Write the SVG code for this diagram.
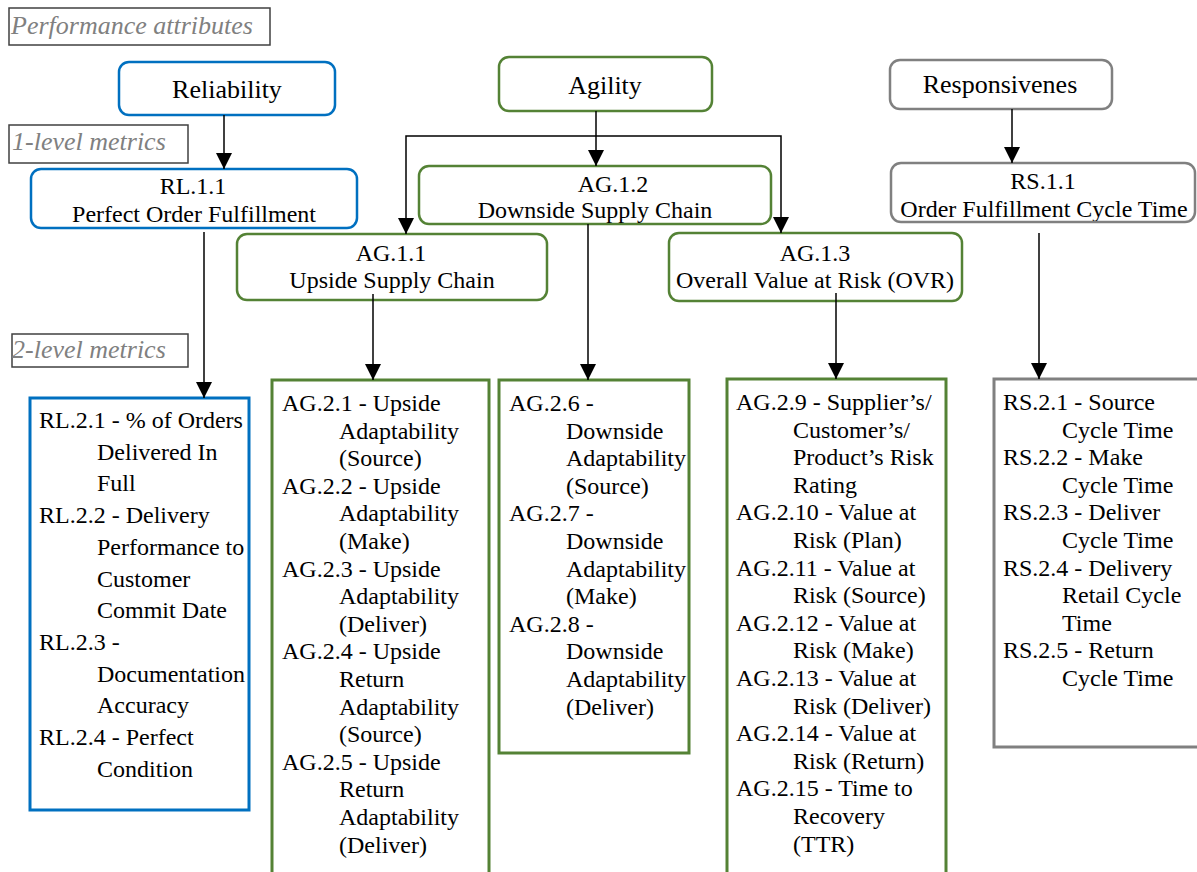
<svg xmlns="http://www.w3.org/2000/svg" width="1197" height="872" viewBox="0 0 1197 872">
<style>
.bg{fill:#ffffff}
.lbl{fill:#ffffff;stroke:#404040;stroke-width:1.5}
.lt{font-family:"Liberation Serif",serif;font-style:italic;font-size:26px;fill:#808080}
.blue{fill:#ffffff;stroke:#0070C0;stroke-width:2.5}
.green{fill:#ffffff;stroke:#548235;stroke-width:2.5}
.gray{fill:#ffffff;stroke:#808080;stroke-width:2.5}
.lblue{fill:#ffffff;stroke:#0070C0;stroke-width:3}
.lgreen{fill:#ffffff;stroke:#548235;stroke-width:3}
.lgray{fill:#ffffff;stroke:#808080;stroke-width:3}
.t26{font-family:"Liberation Serif",serif;font-size:26px;fill:#000;text-anchor:middle}
.t24{font-family:"Liberation Serif",serif;font-size:24px;fill:#000;text-anchor:middle}
.li{font-family:"Liberation Serif",serif;font-size:24px;fill:#000}
.con{fill:none;stroke:#000;stroke-width:1.5}
</style>
<defs>
<marker id="arr" markerUnits="userSpaceOnUse" markerWidth="16" markerHeight="16" viewBox="0 0 16 16" refX="16" refY="8" orient="auto">
<path d="M0,0 L16,8 L0,16 z" fill="#000"/>
</marker>
<clipPath id="clipAG12"><rect x="419" y="166" width="352" height="57"/></clipPath>
<clipPath id="clipRS11"><rect x="891" y="163" width="304" height="58"/></clipPath>
</defs>
<rect class="bg" x="0" y="0" width="1197" height="872"/>

<g id="label-performance">
<rect class="lbl" x="9" y="8" width="261" height="37"/>
<text class="lt" x="11" y="34">Performance attributes</text>
</g>
<g id="label-level1">
<rect class="lbl" x="9" y="125" width="179" height="38"/>
<text class="lt" x="12" y="150">1-level metrics</text>
</g>
<g id="label-level2">
<rect class="lbl" x="12" y="334" width="176" height="33"/>
<text class="lt" x="12" y="358">2-level metrics</text>
</g>

<g id="reliability">
<rect class="blue" x="119" y="62" width="216" height="53" rx="10"/>
<text class="t26" x="227" y="98">Reliability</text>
</g>
<g id="agility">
<rect class="green" x="499" y="57" width="213" height="54" rx="10"/>
<text class="t26" x="605" y="94">Agility</text>
</g>
<g id="responsiveness">
<rect class="gray" x="890" y="60" width="222" height="49" rx="10"/>
<text class="t26" x="1000" y="93">Responsivenes</text>
</g>

<g id="rl11">
<rect class="blue" x="31" y="169" width="326" height="59" rx="10"/>
<text class="t24" x="193" y="194">RL.1.1</text>
<text class="t24" x="194" y="222">Perfect Order Fulfillment</text>
</g>
<g id="ag12">
<rect class="green" x="419" y="166" width="352" height="58" rx="10"/>
<g clip-path="url(#clipAG12)">
<text class="t24" x="613" y="192">AG.1.2</text>
<text class="t24" x="595" y="218">Downside Supply Chain</text>
</g>
</g>
<g id="ag11">
<rect class="green" x="237" y="234" width="310" height="66" rx="10"/>
<text class="t24" x="391" y="261">AG.1.1</text>
<text class="t24" x="392" y="288">Upside Supply Chain</text>
</g>
<g id="ag13">
<rect class="green" x="669" y="233" width="293" height="68" rx="10"/>
<text class="t24" x="815" y="261">AG.1.3</text>
<text class="t24" x="815" y="288">Overall Value at Risk (OVR)</text>
</g>
<g id="rs11">
<rect class="gray" x="891" y="163" width="304" height="59" rx="10"/>
<g clip-path="url(#clipRS11)">
<text class="t24" x="1043" y="189">RS.1.1</text>
<text class="t24" x="1044" y="217">Order Fulfillment Cycle Time</text>
</g>
</g>

<g id="rl-level2">
<rect class="lblue" x="30" y="398" width="219" height="412"/>
<text class="li" x="39" y="428">RL.2.1 - % of Orders</text>
<text class="li" x="97" y="459.7">Delivered In</text>
<text class="li" x="97" y="491.4">Full</text>
<text class="li" x="39" y="523.1">RL.2.2 - Delivery</text>
<text class="li" x="97" y="554.8">Performance to</text>
<text class="li" x="97" y="586.5">Customer</text>
<text class="li" x="97" y="618.2">Commit Date</text>
<text class="li" x="39" y="649.9">RL.2.3 -</text>
<text class="li" x="97" y="681.6">Documentation</text>
<text class="li" x="97" y="713.3">Accuracy</text>
<text class="li" x="39" y="745">RL.2.4 - Perfect</text>
<text class="li" x="97" y="776.7">Condition</text>
</g>

<g id="ag-upside-level2">
<rect class="lgreen" x="272" y="380" width="217" height="520"/>
<text class="li" x="282" y="411">AG.2.1 - Upside</text>
<text class="li" x="339" y="438.6">Adaptability</text>
<text class="li" x="339" y="466.2">(Source)</text>
<text class="li" x="282" y="493.8">AG.2.2 - Upside</text>
<text class="li" x="339" y="521.4">Adaptability</text>
<text class="li" x="339" y="549">(Make)</text>
<text class="li" x="282" y="576.6">AG.2.3 - Upside</text>
<text class="li" x="339" y="604.2">Adaptability</text>
<text class="li" x="339" y="631.8">(Deliver)</text>
<text class="li" x="282" y="659.4">AG.2.4 - Upside</text>
<text class="li" x="339" y="687">Return</text>
<text class="li" x="339" y="714.6">Adaptability</text>
<text class="li" x="339" y="742.2">(Source)</text>
<text class="li" x="282" y="769.8">AG.2.5 - Upside</text>
<text class="li" x="339" y="797.4">Return</text>
<text class="li" x="339" y="825">Adaptability</text>
<text class="li" x="339" y="852.6">(Deliver)</text>
</g>

<g id="ag-downside-level2">
<rect class="lgreen" x="499" y="380" width="190" height="373"/>
<text class="li" x="509" y="411">AG.2.6 -</text>
<text class="li" x="566" y="438.6">Downside</text>
<text class="li" x="566" y="466.2">Adaptability</text>
<text class="li" x="566" y="493.8">(Source)</text>
<text class="li" x="509" y="521.4">AG.2.7 -</text>
<text class="li" x="566" y="549">Downside</text>
<text class="li" x="566" y="576.6">Adaptability</text>
<text class="li" x="566" y="604.2">(Make)</text>
<text class="li" x="509" y="631.8">AG.2.8 -</text>
<text class="li" x="566" y="659.4">Downside</text>
<text class="li" x="566" y="687">Adaptability</text>
<text class="li" x="566" y="714.6">(Deliver)</text>
</g>

<g id="ag-ovr-level2">
<rect class="lgreen" x="727" y="379" width="219" height="520"/>
<text class="li" x="736" y="410">AG.2.9 - Supplier’s/</text>
<text class="li" x="793" y="437.6">Customer’s/</text>
<text class="li" x="793" y="465.2">Product’s Risk</text>
<text class="li" x="793" y="492.8">Rating</text>
<text class="li" x="736" y="520.4">AG.2.10 - Value at</text>
<text class="li" x="793" y="548">Risk (Plan)</text>
<text class="li" x="736" y="575.6">AG.2.11 - Value at</text>
<text class="li" x="793" y="603.2">Risk (Source)</text>
<text class="li" x="736" y="630.8">AG.2.12 - Value at</text>
<text class="li" x="793" y="658.4">Risk (Make)</text>
<text class="li" x="736" y="686">AG.2.13 - Value at</text>
<text class="li" x="793" y="713.6">Risk (Deliver)</text>
<text class="li" x="736" y="741.2">AG.2.14 - Value at</text>
<text class="li" x="793" y="768.8">Risk (Return)</text>
<text class="li" x="736" y="796.4">AG.2.15 - Time to</text>
<text class="li" x="793" y="824">Recovery</text>
<text class="li" x="793" y="851.6">(TTR)</text>
</g>

<g id="rs-level2">
<rect class="lgray" x="994" y="379" width="230" height="368"/>
<text class="li" x="1003" y="410">RS.2.1 - Source</text>
<text class="li" x="1062" y="437.6">Cycle Time</text>
<text class="li" x="1003" y="465.2">RS.2.2 - Make</text>
<text class="li" x="1062" y="492.8">Cycle Time</text>
<text class="li" x="1003" y="520.4">RS.2.3 - Deliver</text>
<text class="li" x="1062" y="548">Cycle Time</text>
<text class="li" x="1003" y="575.6">RS.2.4 - Delivery</text>
<text class="li" x="1062" y="603.2">Retail Cycle</text>
<text class="li" x="1062" y="630.8">Time</text>
<text class="li" x="1003" y="658.4">RS.2.5 - Return</text>
<text class="li" x="1062" y="686">Cycle Time</text>
</g>

<g id="connectors">
<path class="con" d="M224,115 V169" marker-end="url(#arr)"/>
<path class="con" d="M596,111 V166" marker-end="url(#arr)"/>
<path class="con" d="M596,136 H406 V234" marker-end="url(#arr)"/>
<path class="con" d="M596,136 H781 V233" marker-end="url(#arr)"/>
<path class="con" d="M1012,109 V163" marker-end="url(#arr)"/>
<path class="con" d="M204,232 V398" marker-end="url(#arr)"/>
<path class="con" d="M373,294 V380" marker-end="url(#arr)"/>
<path class="con" d="M588,224 V380" marker-end="url(#arr)"/>
<path class="con" d="M836,293 V379" marker-end="url(#arr)"/>
<path class="con" d="M1039,233 V379" marker-end="url(#arr)"/>
</g>
</svg>
